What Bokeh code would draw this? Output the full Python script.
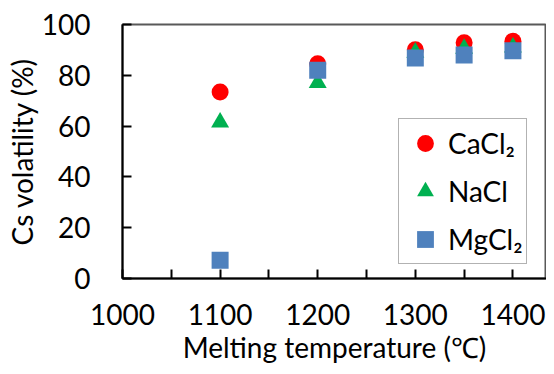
from bokeh.plotting import figure
from bokeh.models import (FixedTicker, Legend, LegendItem, Range1d)
from bokeh.embed import file_html
from bokeh.resources import INLINE

# ---- data ----
temps = [1100, 1200, 1300, 1350, 1400]
cacl2 = [73.4, 84.5, 90.1, 92.8, 93.4]
nacl = [61.5, 77.0, 89.0, 90.5, 91.0]
mgcl2 = [7.2, 82.0, 86.8, 88.0, 89.7]

x_ticks = [1000, 1100, 1200, 1300, 1400]
x_minor = [1050, 1150, 1250, 1350]
y_ticks = [0, 20, 40, 60, 80, 100]

series_names = ["CaCl\u2082", "NaCl", "MgCl\u2082"]
x_title = "Melting temperature (\u2103)"
y_title = "Cs volatility (%)"

FONT = "Lato"
FS = "28px"

p = figure(width=546, height=366, output_backend="svg", toolbar_location=None,
           x_range=Range1d(1000, 1434.4), y_range=Range1d(0, 100),
           min_border_left=122, min_border_right=0, min_border_top=24,
           min_border_bottom=0)
# plot-area border (top edge visible; left/bottom covered by the axes)
p.outline_line_color = "#595959"
p.outline_line_width = 2
p.xgrid.visible = False
p.ygrid.visible = False
p.background_fill_color = "white"
p.border_fill_color = "white"

xb = p.below[0]
yl = p.left[0]

r1 = p.scatter(temps, cacl2, marker="circle", size=17, fill_color="#FF0000", line_color=None)
r2 = p.scatter(temps, nacl, marker="triangle", size=18, fill_color="#00B050", line_color=None)
r3 = p.scatter(temps, mgcl2, marker="square", size=17, fill_color="#4F81BD", line_color=None)

for ax in (xb, yl):
    ax.axis_line_color = "black"
    ax.axis_line_width = 2
    ax.major_tick_line_color = "black"
    ax.major_tick_line_width = 2
    ax.major_tick_out = 0
    ax.major_tick_in = 9
    ax.major_label_text_font = FONT
    ax.major_label_text_font_size = FS
    ax.major_label_text_color = "black"
    ax.axis_label_text_font = FONT
    ax.axis_label_text_font_size = FS
    ax.axis_label_text_font_style = "normal"
    ax.axis_label_text_color = "black"

xb.ticker = FixedTicker(ticks=x_ticks, minor_ticks=x_minor)
xb.minor_tick_in = 9
xb.minor_tick_out = 0
xb.minor_tick_line_color = "black"
xb.minor_tick_line_width = 2
xb.major_label_standoff = 25
xb.axis_label = x_title
xb.axis_label_standoff = 2

yl.ticker = FixedTicker(ticks=y_ticks)
yl.minor_tick_line_color = None
yl.major_label_standoff = 32
yl.axis_label = y_title
yl.axis_label_standoff = 0

legend = Legend(items=[LegendItem(label=series_names[0], renderers=[r1]),
                       LegendItem(label=series_names[1], renderers=[r2]),
                       LegendItem(label=series_names[2], renderers=[r3])],
                location=(276, 14), orientation="vertical")
legend.label_text_font = FONT
legend.label_text_font_size = FS
legend.label_text_color = "black"
legend.glyph_width = 46
legend.glyph_height = 42
legend.label_height = 42
legend.label_standoff = 0
legend.spacing = 6
legend.padding = 3
legend.margin = 0
legend.border_line_color = "#666666"
legend.border_line_width = 1.5
legend.background_fill_color = "white"
legend.background_fill_alpha = 1
p.add_layout(legend, "center")

open("out.html", "w").write(file_html(p, INLINE))
